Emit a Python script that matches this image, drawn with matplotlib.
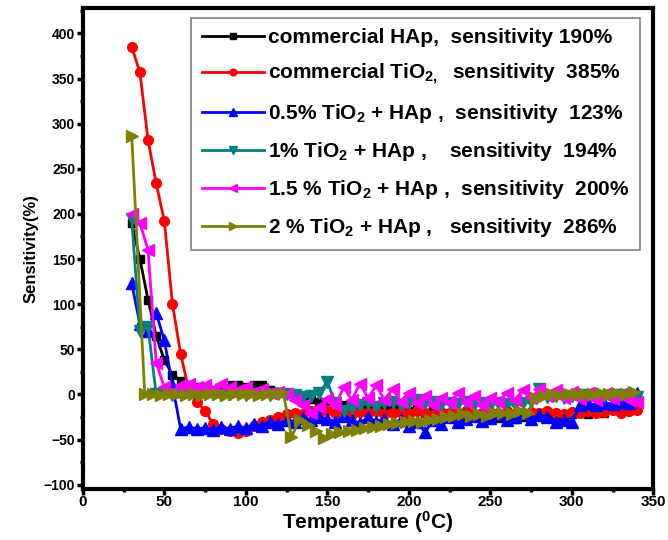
import numpy as np
import matplotlib
matplotlib.use('Agg')
import matplotlib.pyplot as plt
from matplotlib.ticker import MultipleLocator

plt.rcParams['font.family'] = ['Liberation Sans', 'DejaVu Sans']
plt.rcParams['font.weight'] = 'bold'
plt.rcParams['mathtext.fontset'] = 'custom'
plt.rcParams['mathtext.bf'] = 'Liberation Sans:bold'
plt.rcParams['mathtext.rm'] = 'Liberation Sans:bold'
plt.rcParams['mathtext.default'] = 'bf'

# Temperature grid (deg C)
temps = list(range(30, 345, 5))
temps_2pct = [30] + list(range(38, 339, 5))

hap = [190, 150, 105, 65, 38, 22, 15, 10, 8, 5, 5, 6, 10, 10, 8, 10, 10, 5, 3, 2, 0,
       -2, -5, -8, -10, -8, -12, -10, -14, -12, -15, -13, -16, -14, -18, -15, -20, -18,
       -22, -20, -22, -24, -22, -25, -24, -26, -24, -27, -25, -26, -24, -22, -25, -23,
       -22, -20, -22, -18, -20, -16, -18, -15, -14]
tio2 = [385, 357, 282, 234, 192, 100, 45, 5, -8, -18, -33, -38, -40, -43, -40, -35, -30,
        -28, -25, -22, -20, -22, -18, -20, -17, -20, -18, -22, -19, -21, -18, -22, -20,
        -19, -22, -18, -20, -23, -19, -21, -20, -18, -22, -20, -19, -21, -18, -22, -20,
        -19, -21, -18, -20, -22, -19, -21, -18, -20, -19, -17, -20, -18, -17]
pct05 = [123, 78, 70, 90, 60, 10, -38, -36, -38, -37, -39, -36, -38, -35, -37, -33, -35,
         -30, -33, -28, -30, -26, -28, -25, -27, -30, -24, -28, -32, -25, -30, -27, -33,
         -28, -35, -30, -42, -28, -33, -25, -30, -27, -24, -29, -26, -22, -28, -25, -20,
         -27, -23, -25, -30, -28, -30, -12, -10, -12, -9, -11, -8, -10, 2]
pct1 = [194, 70, 75, 0, 2, -1, 1, 0, -1, 1, 0, -1, 1, 0, -1, 1, 0, -1, 0, 1, -1, -3, -2,
        2, 14, -10, -18, -15, -12, -10, -14, -10, -8, -12, -9, -6, -10, -8, -12, -9, -11,
        -8, -12, -10, -13, -9, -11, -12, -10, -8, 6, -3, -2, -4, -2, -3, -1, -3, -2, -3,
        -1, -2, -3]
pct15 = [200, 190, 160, 35, 8, 3, 10, 12, 8, 10, 6, 12, 8, 5, 8, 3, 6, 2, 3, 0, -6, -12,
         -20, -14, -5, -12, 8, -6, 12, -4, 10, -6, 6, -8, 2, -10, -2, -12, -4, -10, 2, -8,
         -2, -12, -4, -8, 2, -6, 5, -4, 6, -2, 5, -4, 3, -5, 2, -6, 1, -5, 0, -6, -8]
pct2 = [286, 0, 1, -1, 0, 1, -1, 0, -1, 1, 0, -1, 0, 1, 0, -1, 1, 0, 2, -47, -28, -34,
        -40, -48, -44, -42, -40, -39, -37, -36, -35, -33, -32, -30, -29, -30, -28, -27,
        -25, -24, -22, -24, -22, -24, -21, -20, -22, -18, -20, -4, -2, 0, -1, 1, 0, 1, 0,
        2, 1, 2, 1, 3]

labels = [
    r'commercial HAp,  sensitivity 190%',
    r'commercial TiO$_{2,}$  sensitivity  385%',
    r'0.5% TiO$_2$ + HAp ,  sensitivity  123%',
    r'1% TiO$_2$ + HAp ,    sensitivity  194%',
    r'1.5 % TiO$_2$ + HAp ,  sensitivity  200%',
    r'2 % TiO$_2$ + HAp ,   sensitivity  286%',
]

fig = plt.figure(figsize=(6.68, 5.40), dpi=100)
ax = fig.add_axes([0.124, 0.094, 0.854, 0.891])

ax.plot(temps, hap, color='black', marker='s', ms=6, lw=2, label=labels[0])
ax.plot(temps, tio2, color='red', marker='o', ms=7, lw=2, label=labels[1])
ax.plot(temps, pct05, color='blue', marker='^', ms=8, lw=2, label=labels[2])
ax.plot(temps, pct1, color='#008080', marker='v', ms=8, lw=2, label=labels[3])
ax.plot(temps, pct15, color='magenta', marker='<', ms=8, lw=2, label=labels[4])
ax.plot(temps_2pct, pct2, color='#808000', marker='>', ms=8, lw=2, label=labels[5])

ax.set_xlim(0, 350)
ax.set_ylim(-105, 428)
ax.xaxis.set_major_locator(MultipleLocator(50))
ax.xaxis.set_minor_locator(MultipleLocator(25))
ax.yaxis.set_major_locator(MultipleLocator(50))
ax.yaxis.set_minor_locator(MultipleLocator(25))
ax.tick_params(which='major', direction='out', length=4, width=2.5, labelsize=10, pad=1.5)
ax.tick_params(axis='x', which='major', pad=0.5, labelsize=11)
ax.tick_params(which='minor', direction='out', length=2.5, width=2.5)
for s in ax.spines.values():
    s.set_linewidth(3)
for lab in ax.get_xticklabels() + ax.get_yticklabels():
    lab.set_fontweight('bold')

ax.set_xlabel(r'Temperature ($^{0}$C)', fontsize=15, fontweight='bold', labelpad=0)
ax.set_ylabel('Sensitivity(%)', fontsize=12, fontweight='bold', labelpad=4)

leg = ax.legend(loc='upper right', bbox_to_anchor=(0.958, 0.967),
                bbox_transform=fig.transFigure, fontsize=15, frameon=True,
                fancybox=False, edgecolor='gray', framealpha=1, handlelength=3.0,
                handletextpad=0.2, labelspacing=0.72, borderpad=0.5, borderaxespad=0,
                markerscale=0.7)
leg.get_frame().set_linewidth(1.2)
for t in leg.get_texts():
    t.set_fontweight('bold')

fig.savefig('out.png', dpi=100)
